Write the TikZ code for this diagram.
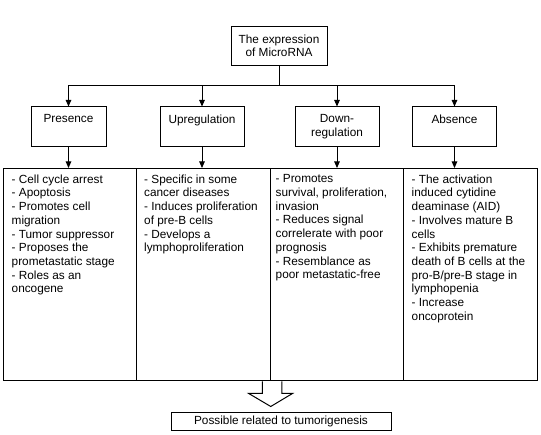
\documentclass[tikz,border=0pt]{standalone}
\usepackage{fontspec}
\setmainfont{Liberation Sans}
\usetikzlibrary{arrows.meta,calc}
\begin{document}
\begin{tikzpicture}[x=1pt,y=-1pt,
  every node/.style={font=\fontsize{11.8}{13.7}\selectfont},
  box/.style={draw,line width=1pt,inner sep=0pt},
  lvl/.style={box,minimum height=40pt},
  col/.style={box,minimum width=133.5pt,minimum height=212.5pt},
  txt/.style={anchor=north west,inner sep=0pt,align=left},
  arr/.style={line width=1pt,-{Triangle[length=6.5pt,width=5.5pt]}},
  ln/.style={line width=1pt}]
\useasboundingbox (0,0) rectangle (541,435);
\node[box,minimum width=96pt,minimum height=38.5pt,align=center] (top) at (279,45.8) {The expression\\of MicroRNA};
\node[lvl,minimum width=75pt] (pres) at (68.5,127) {\parbox[c][40pt][t]{75pt}{\vspace{7.5pt}\centering Presence}};
\node[lvl,minimum width=84pt] (up) at (202,127) {\parbox[c][40pt][t]{84pt}{\vspace{7.5pt}\centering Upregulation}};
\node[lvl,minimum width=84pt] (down) at (337,127) {\parbox[c][40pt][t]{84pt}{\vspace{7.5pt}\centering Down-\\regulation}};
\node[lvl,minimum width=83.5pt] (abs) at (454.5,127) {\parbox[c][40pt][t]{83.5pt}{\vspace{7.5pt}\centering Absence}};
\node[col] (c1) at (70,274.75) {};
\node[col] (c2) at (203.5,274.75) {};
\node[col] (c3) at (337,274.75) {};
\node[col] (c4) at (470.5,274.75) {};
\node[txt] (t1) at (11.5,174.5) {- Cell cycle arrest\\- Apoptosis\\- Promotes cell\\migration\\- Tumor suppressor\\- Proposes the\\prometastatic stage\\- Roles as an\\oncogene};
\node[txt] (t2) at (144,174.5) {- Specific in some\\cancer diseases\\- Induces proliferation\\of pre-B cells\\- Develops a\\lymphoproliferation};
\node[txt] (t3) at (275.5,174.5) {- Promotes\\survival, proliferation,\\invasion\\- Reduces signal\\correlerate with poor\\prognosis\\- Resemblance as\\poor metastatic-free};
\node[txt] (t4) at (411.5,174.5) {- The activation\\induced cytidine\\deaminase (AID)\\- Involves mature B\\cells\\- Exhibits premature\\death of B cells at the\\pro-B/pre-B stage in\\lymphopenia\\- Increase\\oncoprotein};
\node[box,minimum width=220pt,minimum height=18.5pt] (res) at (281,421.5) {Possible related to tumorigenesis};
% connectors
\coordinate (j) at ($(top.south)+(0,20)$);
\draw[ln] (top.south) -- (j);
\draw[arr] (j) -| (pres.north);
\draw[arr] (j) -| (up.north);
\draw[arr] (j) -| (down.north);
\draw[arr] (j) -| (abs.north);
\draw[arr] (pres.south) -- (pres.south |- c1.north);
\draw[arr] (up.south) -- (up.south |- c2.north);
\draw[arr] (down.south) -- (down.south |- c3.north);
\draw[arr] (abs.south) -- (abs.south |- c4.north);
% hollow arrow
\coordinate (a) at (c2.south east);
\draw[ln,fill=white,line join=miter] ($(a)+(-8.3,0)$) -- ++(0,12) -- ($(a)+(-22,12)$) -- ($(a)+(0,25)$) -- ($(a)+(21.7,12)$) -- ($(a)+(11,12)$) -- ($(a)+(11,0)$);
\end{tikzpicture}
\end{document}
